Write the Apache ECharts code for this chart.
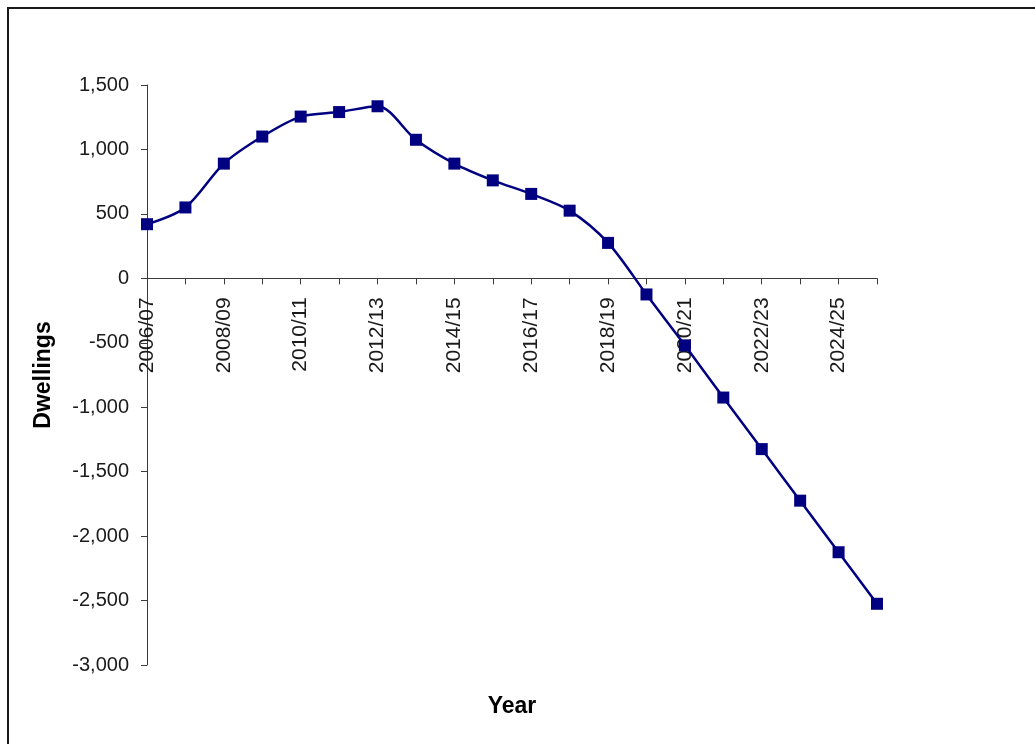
<!DOCTYPE html>
<html>
<head>
<meta charset="utf-8">
<title>Dwellings by year</title>
<script src="https://cdn.jsdelivr.net/npm/echarts@6/dist/echarts.min.js"></script>
<style>
  html, body { margin: 0; padding: 0; background: #fff; }
  #chart { width: 1035px; height: 744px; }
</style>
</head>
<body>
<div id="chart"></div>
<script>
// Financial years shown on the category axis
const years = [
  '2006/07', '2007/08', '2008/09', '2009/10', '2010/11',
  '2011/12', '2012/13', '2013/14', '2014/15', '2015/16',
  '2016/17', '2017/18', '2018/19', '2019/20', '2020/21',
  '2021/22', '2022/23', '2023/24', '2024/25', '2025/26'
];

// Dwellings per year
const dwellings = [
  420, 550, 890, 1100, 1255,
  1290, 1335, 1075, 890, 760,
  655, 525, 275, -125, -520,
  -925, -1325, -1725, -2125, -2525
];

// Value axis range and step
const yMin = -3000;
const yMax = 1500;
const yStep = 500;

const fontFamily = '"Liberation Sans", Arial, sans-serif';
const axisColor = '#3a3a3a';

// Plot area in pixels
const gridTop = 85;
const gridBottom = 79;
const plotHeight = 744 - gridTop - gridBottom;
// The category axis sits on the zero line, so shift it up from the bottom edge
const zeroOffset = plotHeight * (0 - yMin) / (yMax - yMin);

const chart = echarts.init(document.getElementById('chart'), null, { renderer: 'canvas' });

chart.setOption({
  backgroundColor: '#ffffff',
  animation: false,
  grid: {
    left: 147, right: 158, top: gridTop, bottom: gridBottom,
    containLabel: false,
    outerBoundsMode: 'none'
  },
  graphic: [{
    type: 'rect',
    shape: { x: 8, y: 8, width: 1060, height: 780 },
    style: { fill: 'none', stroke: '#1a1a1a', lineWidth: 2 },
    silent: true,
    z: -1
  }],
  xAxis: {
    type: 'category',
    data: years,
    boundaryGap: false,
    position: 'bottom',
    offset: -zeroOffset,
    name: 'Year',
    nameLocation: 'middle',
    nameGap: 417,
    nameTextStyle: { fontFamily, fontSize: 23, fontWeight: 'bold', color: '#000' },
    axisLine: { onZero: false, lineStyle: { color: axisColor, width: 1 } },
    axisTick: { show: true, length: 6, interval: 0, alignWithLabel: true, lineStyle: { color: axisColor } },
    axisLabel: {
      interval: 1,
      rotate: 90,
      margin: 19,
      fontFamily,
      fontSize: 21,
      color: '#1a1a1a'
    },
    splitLine: { show: false }
  },
  yAxis: {
    type: 'value',
    min: yMin,
    max: yMax,
    interval: yStep,
    name: 'Dwellings',
    nameLocation: 'middle',
    nameGap: 92,
    nameRotate: 90,
    nameTextStyle: { fontFamily, fontSize: 23, fontWeight: 'bold', color: '#000' },
    axisLine: { show: true, lineStyle: { color: axisColor, width: 1 } },
    axisTick: { show: true, length: 6, lineStyle: { color: axisColor } },
    axisLabel: {
      margin: 18,
      fontFamily,
      fontSize: 20,
      color: '#1a1a1a',
      formatter: v => v.toLocaleString('en-US')
    },
    splitLine: { show: false }
  },
  series: [{
    type: 'line',
    data: dwellings,
    smooth: 0.3,
    symbol: 'rect',
    symbolSize: 12,
    lineStyle: { color: '#000080', width: 2.5 },
    itemStyle: { color: '#000080' },
    z: 5
  }]
});
</script>
</body>
</html>
